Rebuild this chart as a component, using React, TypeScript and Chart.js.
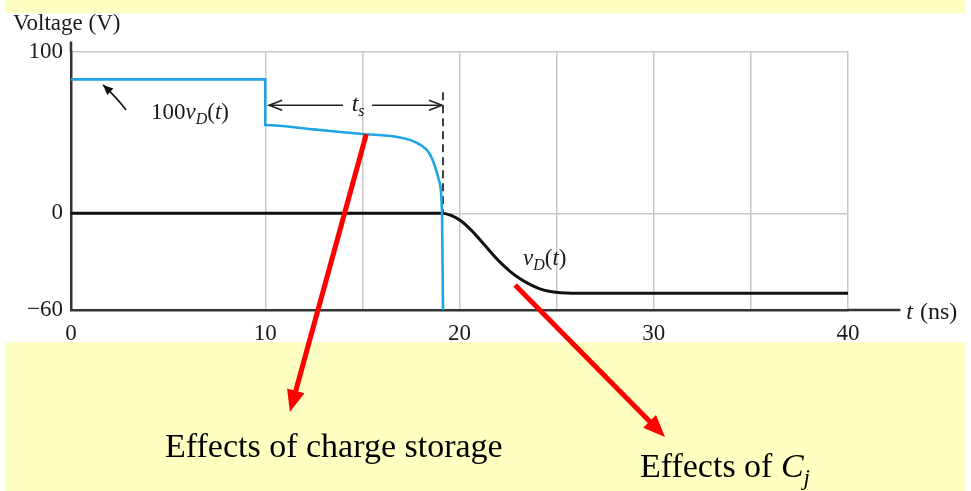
import React, { useEffect, useRef } from 'react';
import { Chart, registerables } from 'chart.js';

Chart.register(...registerables);

// ---------- data ----------
const xTicks = [0, 10, 15, 20, 25, 30, 35, 40];
const xLabelTicks = [0, 10, 20, 30, 40];
const yTicks = [-60, 0, 100];
const yTickLabels = ['\u221260', '0', '100'];

// 100 vD(t) (blue)
const blueT = [0, 10, 10, 12.5, 15, 16.8, 17.8, 18.5, 18.95, 19.1, 19.15];
const blueV = [83, 83, 54.7, 52, 49.1, 47.3, 43.6, 36, 20, 0, -60];

// vD(t) (black)
const blackT = [0, 19.1, 19.6, 20.1, 20.6, 21.1, 21.6, 22.1, 22.6, 23.1, 23.6, 24.1, 24.6, 25.2, 25.8, 40];
const blackV = [0, 0, -1.5, -5, -10.5, -17, -24, -30.5, -36, -40.5, -44, -46.7, -48.4, -49.3, -49.6, -49.6];

// dashed marker at end of storage time
const dashT = [19.15, 19.15];
const dashV = [75, 0];

// annotation anchors (data units: t in ns, V in volts)
const tsArrow = { v: 67, from: 10.2, gapFrom: 14.0, gapTo: 15.5, to: 19.1, labelT: 14.45, labelV: 63.5 };
const label100vD = { t: 4.12, v: 58.3 };
const labelVD = { t: 23.27, v: -32 };
const curvedArrow = { tail: [2.83, 64], ctrl: [2.45, 70.5], tip: [1.65, 79.6] };
const axisTitleY = { t: -2.99, v: 113.6 };
const axisTitleX = { t: 43.0, v: -65.8 };
const axisExtX = 42.7;
const axisExtY = 106.5;
const redArrows = [
  { from: [15.2, 49], to: [11.27, -123.3] },
  { from: [22.86, -44.5], to: [30.58, -138.8] },
];
const noteStorage = { t: 4.84, v: -151.2, text: 'Effects of charge storage' };
const noteCj = { t: 29.29, v: -163.6 };

// ---------- styles ----------
const SERIF = '"Liberation Serif", "Times New Roman", serif';
const BLUE = '#1FA5E3';
const BLACK = '#111111';
const GRID = '#c8c8c8';
const AXIS = '#333333';
const YELLOW = '#FFFFC2';

function font(size: number, italic = false) {
  return `${italic ? 'italic ' : ''}${size}px ${SERIF}`;
}

type Part = { text: string; italic?: boolean; size?: number; dy?: number; gap?: number };

function drawRich(ctx: CanvasRenderingContext2D, x: number, y: number, parts: Part[]) {
  let cx = x;
  for (const p of parts) {
    ctx.font = font(p.size ?? 23, p.italic);
    ctx.fillText(p.text, cx, y + (p.dy ?? 0));
    cx += ctx.measureText(p.text).width + (p.gap ?? 0);
  }
  return cx;
}

function filledHead(ctx: CanvasRenderingContext2D, fx: number, fy: number, tx: number, ty: number, len: number, half: number) {
  const a = Math.atan2(ty - fy, tx - fx);
  const bx = tx - len * Math.cos(a);
  const by = ty - len * Math.sin(a);
  ctx.beginPath();
  ctx.moveTo(tx, ty);
  ctx.lineTo(bx + half * Math.sin(a), by - half * Math.cos(a));
  ctx.lineTo(bx - half * Math.sin(a), by + half * Math.cos(a));
  ctx.closePath();
  ctx.fill();
  return [bx, by];
}

function openHead(ctx: CanvasRenderingContext2D, tx: number, ty: number, dir: number, len: number, half: number) {
  ctx.beginPath();
  ctx.moveTo(tx - dir * len, ty - half);
  ctx.lineTo(tx, ty);
  ctx.lineTo(tx - dir * len, ty + half);
  ctx.stroke();
}

const decorPlugin = {
  id: 'decor',
  beforeDraw(chart: any) {
    const ctx = chart.ctx as CanvasRenderingContext2D;
    ctx.save();
    ctx.fillStyle = YELLOW;
    ctx.fillRect(5, 0, 961, 13);
    ctx.fillRect(5, 342, 961, 149);
    ctx.restore();
  },
  afterDraw(chart: any) {
    const ctx = chart.ctx as CanvasRenderingContext2D;
    const xs = chart.scales.x;
    const ys = chart.scales.y;
    const px = (t: number) => xs.getPixelForValue(t);
    const py = (v: number) => ys.getPixelForValue(v);
    ctx.save();

    // axis extensions
    ctx.strokeStyle = AXIS;
    ctx.lineWidth = 2.5;
    ctx.beginPath();
    ctx.moveTo(px(40), py(-60));
    ctx.lineTo(px(axisExtX), py(-60));
    ctx.moveTo(px(0), py(100));
    ctx.lineTo(px(0), py(axisExtY));
    ctx.stroke();

    ctx.fillStyle = '#1a1a1a';
    ctx.textBaseline = 'alphabetic';
    ctx.textAlign = 'left';

    // axis titles
    drawRich(ctx, px(axisTitleY.t), py(axisTitleY.v), [{ text: 'Voltage (V)', size: 23 }]);
    drawRich(ctx, px(axisTitleX.t), py(axisTitleX.v), [
      { text: 't', italic: true, size: 24, gap: 7 },
      { text: '(ns)', size: 24 },
    ]);

    // series labels
    drawRich(ctx, px(label100vD.t), py(label100vD.v), [
      { text: '100' },
      { text: 'v', italic: true },
      { text: 'D', italic: true, size: 16, dy: 5 },
      { text: '(' },
      { text: 't', italic: true },
      { text: ')' },
    ]);
    drawRich(ctx, px(labelVD.t), py(labelVD.v), [
      { text: 'v', italic: true },
      { text: 'D', italic: true, size: 16, dy: 5 },
      { text: '(' },
      { text: 't', italic: true },
      { text: ')' },
    ]);

    // t_s arrow
    ctx.strokeStyle = '#222';
    ctx.lineWidth = 1.6;
    const ay = py(tsArrow.v);
    ctx.beginPath();
    ctx.moveTo(px(tsArrow.from), ay);
    ctx.lineTo(px(tsArrow.gapFrom), ay);
    ctx.moveTo(px(tsArrow.gapTo), ay);
    ctx.lineTo(px(tsArrow.to), ay);
    ctx.stroke();
    openHead(ctx, px(tsArrow.from), ay, -1, 13, 5);
    openHead(ctx, px(tsArrow.to), ay, 1, 13, 5);
    drawRich(ctx, px(tsArrow.labelT), py(tsArrow.labelV), [
      { text: 't', italic: true, size: 24 },
      { text: 's', italic: true, size: 16, dy: 5 },
    ]);

    // small curved arrow
    const [tx0, tv0] = curvedArrow.tail;
    const [cx0, cv0] = curvedArrow.ctrl;
    const [hx0, hv0] = curvedArrow.tip;
    ctx.strokeStyle = '#111';
    ctx.lineWidth = 1.6;
    ctx.beginPath();
    ctx.moveTo(px(tx0), py(tv0));
    ctx.quadraticCurveTo(px(cx0), py(cv0), px(hx0), py(hv0));
    ctx.stroke();
    ctx.fillStyle = '#111';
    filledHead(ctx, px(cx0), py(cv0), px(hx0), py(hv0), 10, 4.5);

    // red arrows
    ctx.strokeStyle = '#FF0000';
    ctx.fillStyle = '#FF0000';
    ctx.lineWidth = 5;
    ctx.lineCap = 'butt';
    for (const a of redArrows) {
      const fx = px(a.from[0]);
      const fy = py(a.from[1]);
      const tx = px(a.to[0]);
      const ty = py(a.to[1]);
      const ang = Math.atan2(ty - fy, tx - fx);
      const len = 22;
      ctx.beginPath();
      ctx.moveTo(fx, fy);
      ctx.lineTo(tx - (len - 2) * Math.cos(ang), ty - (len - 2) * Math.sin(ang));
      ctx.stroke();
      filledHead(ctx, fx, fy, tx, ty, len, 9);
    }

    // notes
    ctx.fillStyle = '#000';
    drawRich(ctx, px(noteStorage.t), py(noteStorage.v), [{ text: noteStorage.text, size: 34 }]);
    drawRich(ctx, px(noteCj.t), py(noteCj.v), [
      { text: 'Effects of ', size: 34 },
      { text: 'C', italic: true, size: 34 },
      { text: 'j', italic: true, size: 23, dy: 8 },
    ]);

    ctx.restore();
  },
};

export default function App() {
  const ref = useRef<HTMLCanvasElement>(null);
  useEffect(() => {
    document.body.style.margin = '0';
    const canvas = ref.current;
    if (!canvas) return;
    const chart = new Chart(canvas, {
      type: 'line',
      data: {
        datasets: [
          {
            label: '100 vD(t)',
            data: blueT.map((t, i) => ({ x: t, y: blueV[i] })),
            borderColor: BLUE,
            borderWidth: 2.6,
            pointRadius: 0,
            cubicInterpolationMode: 'monotone',
            fill: false,
            clip: 4,
          },
          {
            label: 'vD(t)',
            data: blackT.map((t, i) => ({ x: t, y: blackV[i] })),
            borderColor: BLACK,
            borderWidth: 3,
            pointRadius: 0,
            cubicInterpolationMode: 'monotone',
            fill: false,
          },
          {
            label: 'ts',
            data: dashT.map((t, i) => ({ x: t, y: dashV[i] })),
            borderColor: '#111',
            borderWidth: 1.6,
            borderDash: [8, 5],
            pointRadius: 0,
            tension: 0,
            fill: false,
          },
        ],
      } as any,
      options: {
        animation: false,
        responsive: false,
        devicePixelRatio: 1,
        events: [],
        layout: { padding: { left: 0, top: 52, right: 123, bottom: 0 } },
        plugins: { legend: { display: false }, tooltip: { enabled: false }, title: { display: false } },
        scales: {
          x: {
            type: 'linear',
            min: 0,
            max: 40,
            afterBuildTicks: (s: any) => {
              s.ticks = xTicks.map((v) => ({ value: v }));
            },
            afterFit: (s: any) => {
              s.height = 181;
            },
            ticks: {
              autoSkip: false,
              maxRotation: 0,
              padding: 10,
              color: '#1a1a1a',
              font: { family: SERIF, size: 23 },
              callback: (v: any) => (xLabelTicks.includes(Number(v)) ? String(v) : ''),
            },
            grid: {
              color: (c: any) => (c.tick && c.tick.value === 0 ? 'rgba(0,0,0,0)' : GRID),
              lineWidth: 1.5,
              drawTicks: false,
            },
            border: { display: true, color: AXIS, width: 2.5 },
          },
          y: {
            type: 'linear',
            min: -60,
            max: 100,
            afterBuildTicks: (s: any) => {
              s.ticks = yTicks.map((v) => ({ value: v }));
            },
            afterFit: (s: any) => {
              s.width = 71;
            },
            ticks: {
              autoSkip: false,
              padding: 8,
              color: '#1a1a1a',
              font: { family: SERIF, size: 23 },
              callback: (v: any) => {
                const i = yTicks.indexOf(Number(v));
                return i >= 0 ? yTickLabels[i] : '';
              },
            },
            grid: {
              color: (c: any) => (c.tick && c.tick.value === -60 ? 'rgba(0,0,0,0)' : GRID),
              lineWidth: 1.5,
              drawTicks: false,
            },
            border: { display: true, color: AXIS, width: 2.5 },
          },
        },
      } as any,
      plugins: [decorPlugin],
    });
    return () => chart.destroy();
  }, []);
  return (
    <div style={{ position: 'absolute', left: 0, top: 0, width: 971, height: 491, background: '#fff' }}>
      <canvas ref={ref} width={971} height={491} style={{ display: 'block', width: 971, height: 491 }} />
    </div>
  );
}
